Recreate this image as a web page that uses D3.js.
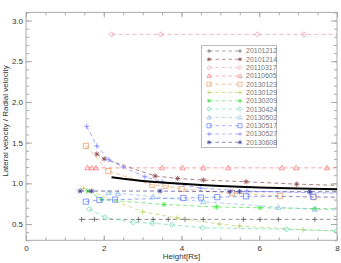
<!DOCTYPE html>
<html>
<head>
<meta charset="utf-8">
<script src="https://cdn.jsdelivr.net/npm/d3@7"></script>
<style>
   body { margin: 0; background: #fff; }
   svg { display: block; font-family: "Liberation Sans", Arial, sans-serif; }
   .tick text { fill: #333; font-size: 8px; }
   .legendText { fill: #777; font-size: 7px; }
   .axisTitle { fill: #333; font-size: 8px; }
</style>
</head>
<body>
<div id="chart"></div>
<script>
// event dates (legend order)
const events = ["20101212", "20101214", "20110317", "20110605", "20130123", "20130129",
   "20130209", "20130424", "20130502", "20130517", "20130527", "20130608"];

// [height Rs, lateral/radial velocity] per event
const s20101212 = [[1.43, 0.557], [1.76, 0.557], [2.89, 0.557], [3.27, 0.557], [3.66, 0.557], [4.09, 0.557],
   [4.56, 0.557], [5.59, 0.557], [6.02, 0.557], [6.49, 0.557], [7.43, 0.557], [8.4, 0.557]];
const s20101214 = [[1.82, 1.36], [2.01, 1.30], [3.32, 1.09], [3.90, 1.06], [4.56, 1.04], [5.66, 1.02],
   [6.96, 0.99], [8.4, 0.97]];
const s20110317 = [[2.20, 2.83], [3.47, 2.83], [5.95, 2.83], [7.15, 2.83], [8.4, 2.83]];
const s20110605 = [[1.58, 1.19], [1.69, 1.19], [1.80, 1.19], [3.50, 1.19], [4.03, 1.19], [4.56, 1.19],
   [5.20, 1.19], [6.58, 1.19], [6.95, 1.19], [7.74, 1.19], [8.4, 1.19]];
const s20130123 = [[1.54, 1.46], [2.12, 1.15], [3.25, 0.98], [3.59, 0.97], [4.0, 0.93], [5.3, 0.88],
   [6.53, 0.845], [7.4, 0.83], [8.4, 0.82]];
const s20130129 = [[1.47, 0.94], [3.0, 0.65], [3.88, 0.575], [4.97, 0.50], [5.49, 0.475], [7.13, 0.43],
   [8.4, 0.41]];
const s20130209 = [[1.59, 0.905], [1.95, 0.80], [3.55, 0.74], [4.9, 0.71], [6.02, 0.70], [7.43, 0.69],
   [8.4, 0.685]];
const s20130424 = [[1.63, 0.684], [2.03, 0.582], [2.76, 0.52], [3.25, 0.51], [3.75, 0.49], [4.54, 0.455],
   [6.7, 0.435], [7.99, 0.414]];
const s20130502 = [[2.12, 0.885], [2.37, 0.877], [3.27, 0.835], [4.56, 0.775], [6.49, 0.705], [7.43, 0.68],
   [8.4, 0.67]];
const s20130517 = [[1.54, 0.775], [1.89, 0.795], [2.29, 0.80], [4.05, 0.82], [4.5, 0.825], [4.92, 0.83],
   [5.66, 0.84], [7.39, 0.835], [8.4, 0.83]];
const s20130527 = [[1.56, 1.70], [1.82, 1.46], [2.13, 1.29], [2.5, 1.20], [3.06, 1.08], [3.5, 1.02],
   [4.5, 0.94], [5.68, 0.905], [7.3, 0.885], [8.4, 0.875]];
const s20130608 = [[1.39, 0.905], [1.69, 0.905], [3.45, 0.905], [5.25, 0.897], [5.49, 0.897], [7.3, 0.897],
   [8.4, 0.895]];

const seriesValues = [s20101212, s20101214, s20110317, s20110605, s20130123, s20130129,
   s20130209, s20130424, s20130502, s20130517, s20130527, s20130608];

// thick black reference curve
const fitHeights = [2.2, 2.5, 3, 3.5, 4, 4.5, 5, 6, 7, 8];
const fitRatio = [1.074, 1.055, 1.03, 1.01, 0.995, 0.98, 0.968, 0.95, 0.937, 0.926];

// axis ticks
const xTickLabels = [0, 2, 4, 6, 8];
const yTickLabels = [0.5, 1.0, 1.5, 2.0, 2.5, 3.0];

const colours = ["#666666", "#8b4a4a", "#eb9aa8", "#ff7a7a", "#eba068", "#b4d45a",
   "#44e444", "#66dcae", "#8cbcec", "#6680ff", "#8080ff", "#40409a"];
const symbols = ["plus", "star", "diamond", "triangle", "square", "plus",
   "star", "diamond", "triangle", "square", "plus", "star"];

const width = 341;
const height = 263;
const margin = { top: 12.4, right: 4, bottom: 22.7, left: 26 };

const svg = d3.select("#chart").append("svg")
   .attr("width", width)
   .attr("height", height);

const x = d3.scaleLinear()
   .domain([0, 8])
   .range([margin.left, width - margin.right]);

const y = d3.scaleLinear()
   .domain([0.3, 3.1])
   .range([height - margin.bottom, margin.top]);

function symbolPath(type) {
   const r = 2.6;
   if (type == "plus") return `M${-r},0H${r}M0,${-r}V${r}`;
   if (type == "star") {
      const d = r * 0.72;
      return `M${-r},0H${r}M0,${-r}V${r}M${-d},${-d}L${d},${d}M${-d},${d}L${d},${-d}`;
   }
   if (type == "diamond") return `M0,${-r}L${r},0L0,${r}L${-r},0Z`;
   if (type == "triangle") return `M0,${-r}L${r},${r * 0.75}L${-r},${r * 0.75}Z`;
   return `M${-r},${-r}H${r}V${r}H${-r}Z`;
}

svg.append("clipPath")
   .attr("id", "plotClip")
   .append("rect")
   .attr("x", x(0))
   .attr("y", y(3.1))
   .attr("width", x(8) - x(0))
   .attr("height", y(0.3) - y(3.1));

// axes with inward ticks
const plotW = x(8) - x(0);
const plotH = y(0.3) - y(3.1);

function drawAxis(axis, tx, ty, cls) {
   const g = svg.append("g")
      .attr("class", cls)
      .attr("transform", `translate(${tx},${ty})`)
      .call(axis);
   g.select(".domain").remove();
   g.selectAll(".tick line").attr("stroke", "#aaa");
   return g;
}

const xMinor = d3.range(0, 8.01, 0.5);
const yMinor = d3.range(0.3, 3.11, 0.1).map(v => Math.round(v * 10) / 10);

drawAxis(d3.axisBottom(x).tickValues(xMinor).tickSize(-3).tickFormat(""), 0, y(0.3), "xMinor");
drawAxis(d3.axisTop(x).tickValues(xMinor).tickSize(-3).tickFormat(""), 0, y(3.1), "xMinorTop");
drawAxis(d3.axisBottom(x).tickValues(xTickLabels).tickSize(-5).tickPadding(5)
   .tickFormat(d3.format("d")), 0, y(0.3), "xAxis");
drawAxis(d3.axisTop(x).tickValues(xTickLabels).tickSize(-5).tickFormat(""), 0, y(3.1), "xAxisTop");

drawAxis(d3.axisLeft(y).tickValues(yMinor).tickSize(-3).tickFormat(""), x(0), 0, "yMinor");
drawAxis(d3.axisRight(y).tickValues(yMinor).tickSize(-3).tickFormat(""), x(8), 0, "yMinorRight");
drawAxis(d3.axisLeft(y).tickValues(yTickLabels).tickSize(-6).tickPadding(3)
   .tickFormat(d3.format(".1f")), x(0), 0, "yAxis");
drawAxis(d3.axisRight(y).tickValues(yTickLabels).tickSize(-6).tickFormat(""), x(8), 0, "yAxisRight");

svg.append("rect")
   .attr("x", x(0))
   .attr("y", y(3.1))
   .attr("width", plotW)
   .attr("height", plotH)
   .attr("fill", "none")
   .attr("stroke", "#aaa")
   .attr("stroke-width", 1);

svg.append("text")
   .attr("class", "axisTitle")
   .attr("x", (x(0) + x(8)) / 2)
   .attr("y", height - 4)
   .style("text-anchor", "middle")
   .text("Height[Rs]");

svg.append("text")
   .attr("class", "axisTitle")
   .attr("transform", `translate(8,${121}) rotate(-90)`)
   .style("text-anchor", "middle")
   .text("Lateral velocity / Radial velocity");

// series
const plot = svg.append("g").attr("clip-path", "url(#plotClip)");

const line = d3.line()
   .x(d => x(d[0]))
   .y(d => y(d[1]));

seriesValues.forEach((vals, i) => {
   plot.append("path")
      .attr("d", line(vals))
      .attr("fill", "none")
      .attr("stroke", colours[i])
      .attr("stroke-width", 0.7)
      .attr("stroke-dasharray", "4,3");

   plot.selectAll(`path.m${i}`)
      .data(vals)
      .enter()
      .append("path")
      .attr("class", `m${i}`)
      .attr("transform", d => `translate(${x(d[0])},${y(d[1])})`)
      .attr("d", symbolPath(symbols[i]))
      .attr("fill", "none")
      .attr("stroke", colours[i])
      .attr("stroke-width", 0.8);
});

plot.append("path")
   .attr("d", line(fitHeights.map((h, i) => [h, fitRatio[i]])))
   .attr("fill", "none")
   .attr("stroke", "#000")
   .attr("stroke-width", 2);

// legend
const legend = svg.append("g").attr("class", "legend");

legend.append("rect")
   .attr("x", 201.5)
   .attr("y", 45.5)
   .attr("width", 75)
   .attr("height", 102)
   .attr("fill", "#fff")
   .attr("stroke", "#bbb")
   .attr("stroke-width", 1);

events.forEach((ev, i) => {
   const ly = 51 + i * 8.3;
   legend.append("line")
      .attr("x1", 209).attr("x2", 240)
      .attr("y1", ly).attr("y2", ly)
      .attr("stroke", colours[i])
      .attr("stroke-width", 0.6)
      .attr("stroke-dasharray", "3.5,3");
   [209, 240].forEach(lx => {
      legend.append("path")
         .attr("transform", `translate(${lx},${ly}) scale(0.8)`)
         .attr("d", symbolPath(symbols[i]))
         .attr("fill", "none")
         .attr("stroke", colours[i])
         .attr("stroke-width", 0.9);
   });
   legend.append("text")
      .attr("class", "legendText")
      .attr("x", 246)
      .attr("y", ly)
      .attr("dy", "0.35em")
      .text(ev);
});
</script>
</body>
</html>
